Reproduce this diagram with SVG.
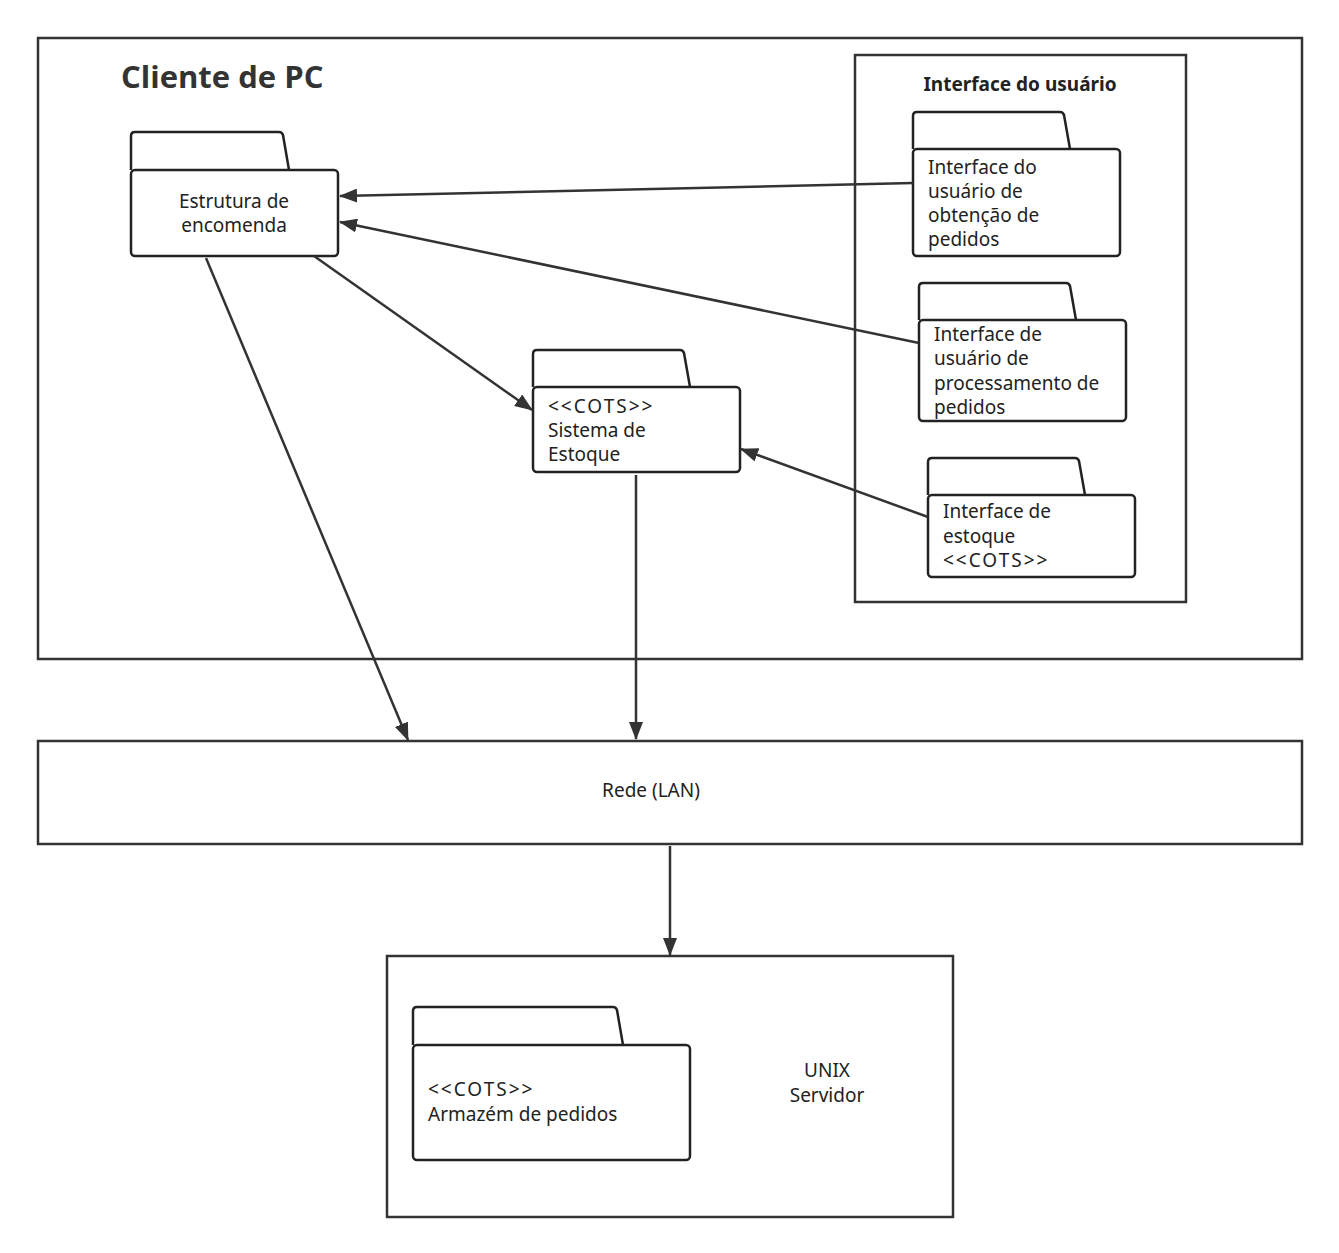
<svg xmlns="http://www.w3.org/2000/svg" width="1339" height="1253" viewBox="0 0 1339 1253">
<style>
.box{fill:#fff;stroke:#333;stroke-width:2.5}
.f{fill:#fff;stroke:#222;stroke-width:2.5;stroke-linejoin:round}
.t{font-family:"Noto Sans","Open Sans",sans-serif;font-size:19px;fill:#222}
.c{stroke:#333;stroke-width:2.5;fill:none;marker-end:url(#a)}
.k{letter-spacing:2px}
</style>
<defs><marker id="a" viewBox="0 0 18 14" refX="17" refY="7" markerWidth="18" markerHeight="14" markerUnits="userSpaceOnUse" orient="auto"><path d="M0,0L18,7L0,14z" fill="#333"/></marker></defs>
<rect width="1339" height="1253" fill="#fff"/>
<g id="cliente"><rect class="box" x="38" y="38" width="1264" height="621"/>
<text x="121" y="88" style="font-family:'Open Sans','Noto Sans',sans-serif;font-size:31px;font-weight:bold;fill:#333">Cliente de PC</text></g>
<g id="ui"><rect class="box" x="855" y="55" width="331" height="547"/>
<text x="1020" y="91" text-anchor="middle" class="t" style="font-weight:bold">Interface do usuário</text></g>
<g id="estrutura"><path class="f" d="M131,170V136Q131,132 135,132H279Q282,132 283,135L289,170"/><rect class="f" x="131" y="170" width="207" height="86" rx="4"/>
<text class="t" text-anchor="middle"><tspan x="234" y="208">Estrutura de</tspan><tspan x="234" y="232">encomenda</tspan></text></g>
<g id="obtencao"><path class="f" d="M913,149V116Q913,112 917,112H1060Q1063,112 1064,115L1070,149"/><rect class="f" x="913" y="149" width="207" height="107" rx="4"/>
<text class="t"><tspan x="928" y="174">Interface do</tspan><tspan x="928" y="198">usuário de</tspan><tspan x="928" y="222">obtenção de</tspan><tspan x="928" y="246">pedidos</tspan></text></g>
<g id="processamento"><path class="f" d="M919,320V287Q919,283 923,283H1066Q1069,283 1070,286L1076,320"/><rect class="f" x="919" y="320" width="207" height="101" rx="4"/>
<text class="t"><tspan x="934" y="341">Interface de</tspan><tspan x="934" y="365">usuário de</tspan><tspan x="934" y="390">processamento de</tspan><tspan x="934" y="414">pedidos</tspan></text></g>
<g id="iestoque"><path class="f" d="M928,495V462Q928,458 932,458H1075Q1078,458 1079,461L1085,495"/><rect class="f" x="928" y="495" width="207" height="82" rx="4"/>
<text class="t"><tspan x="943" y="518">Interface de</tspan><tspan x="943" y="543">estoque</tspan><tspan x="943" y="567" class="k">&lt;&lt;COTS&gt;&gt;</tspan></text></g>
<g id="sistema"><path class="f" d="M533,387V354Q533,350 537,350H680Q683,350 684,353L690,387"/><rect class="f" x="533" y="387" width="207" height="85" rx="4"/>
<text class="t"><tspan x="548" y="413" class="k">&lt;&lt;COTS&gt;&gt;</tspan><tspan x="548" y="437">Sistema de</tspan><tspan x="548" y="461">Estoque</tspan></text></g>
<g id="rede"><rect class="box" x="38" y="741" width="1264" height="103"/><text x="651" y="797" text-anchor="middle" class="t">Rede (LAN)</text></g>
<g id="unix"><rect class="box" x="387" y="956" width="566" height="261"/>
<text class="t" text-anchor="middle"><tspan x="827" y="1077">UNIX</tspan><tspan x="827" y="1102">Servidor</tspan></text></g>
<g id="armazem"><path class="f" d="M413,1045V1011Q413,1007 417,1007H613Q616,1007 617,1010L623,1045"/><rect class="f" x="413" y="1045" width="277" height="115" rx="4"/>
<text class="t"><tspan x="428" y="1096" class="k">&lt;&lt;COTS&gt;&gt;</tspan><tspan x="428" y="1121">Armazém de pedidos</tspan></text></g>
<g id="connectors">
<line class="c" x1="913" y1="183" x2="340" y2="196"/>
<line class="c" x1="919" y1="343" x2="340" y2="222"/>
<line class="c" x1="314" y1="256" x2="532" y2="410"/>
<line class="c" x1="928" y1="517" x2="741" y2="449"/>
<line class="c" x1="206" y1="258" x2="408" y2="740"/>
<line class="c" x1="636" y1="475" x2="636" y2="739"/>
<line class="c" x1="670" y1="846" x2="670" y2="955"/>
</g>
</svg>
